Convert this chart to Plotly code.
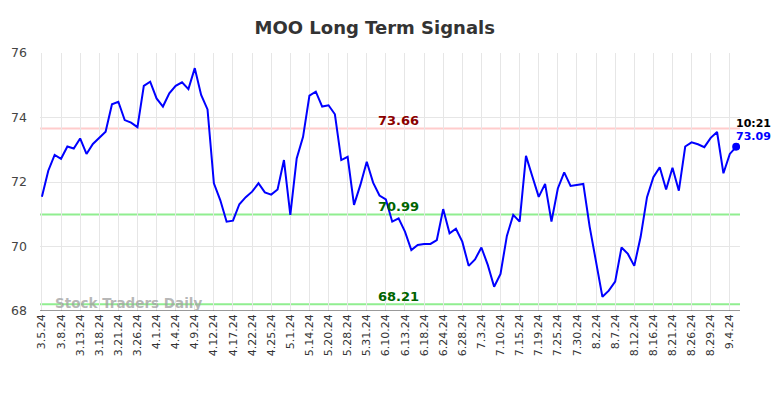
import plotly.graph_objects as go

dates = ["3.5.24","3.6.24","3.7.24","3.8.24","3.11.24","3.12.24","3.13.24","3.14.24","3.15.24","3.18.24",
         "3.19.24","3.20.24","3.21.24","3.22.24","3.25.24","3.26.24","3.27.24","3.28.24","4.1.24","4.2.24",
         "4.3.24","4.4.24","4.5.24","4.8.24","4.9.24","4.10.24","4.11.24","4.12.24","4.15.24","4.16.24",
         "4.17.24","4.18.24","4.19.24","4.22.24","4.23.24","4.24.24","4.25.24","4.26.24","4.29.24","5.1.24",
         "5.3.24","5.10.24","5.14.24","5.15.24","5.16.24","5.20.24","5.22.24","5.23.24","5.28.24","5.29.24",
         "5.30.24","5.31.24","6.4.24","6.6.24","6.10.24","6.11.24","6.12.24","6.13.24","6.14.24","6.17.24",
         "6.18.24","6.20.24","6.21.24","6.24.24","6.25.24","6.26.24","6.28.24","7.1.24","7.2.24","7.3.24",
         "7.5.24","7.9.24","7.10.24","7.11.24","7.12.24","7.15.24","7.16.24","7.17.24","7.19.24","7.22.24",
         "7.23.24","7.25.24","7.26.24","7.29.24","7.30.24","7.31.24","8.1.24","8.2.24","8.5.24","8.6.24",
         "8.7.24","8.8.24","8.9.24","8.12.24","8.13.24","8.14.24","8.16.24","8.19.24","8.20.24","8.21.24",
         "8.22.24","8.23.24","8.26.24","8.27.24","8.28.24","8.29.24","8.30.24","9.3.24","9.4.24","9.5.24"]

prices = [71.54,72.35,72.84,72.72,73.10,73.04,73.35,72.87,73.18,73.38,
          73.56,74.41,74.49,73.92,73.84,73.70,74.98,75.11,74.59,74.34,
          74.75,74.98,75.09,74.88,75.53,74.70,74.25,71.96,71.44,70.77,
          70.80,71.31,71.53,71.70,71.96,71.68,71.61,71.77,72.68,70.98,
          72.73,73.40,74.68,74.80,74.34,74.38,74.10,72.68,72.78,71.29,
          71.91,72.63,71.98,71.58,71.46,70.77,70.87,70.46,69.89,70.05,
          70.08,70.08,70.20,71.16,70.41,70.55,70.15,69.40,69.60,69.97,
          69.43,68.75,69.15,70.33,70.98,70.77,72.81,72.17,71.54,71.94,
          70.77,71.80,72.30,71.88,71.91,71.94,70.61,69.53,68.44,68.63,
          68.91,69.97,69.77,69.40,70.30,71.53,72.15,72.46,71.77,72.44,
          71.73,73.10,73.23,73.17,73.08,73.37,73.55,72.27,72.87,73.09]

resistance = 73.66
support_hi = 70.99
support_lo = 68.21
last_time = "10:21"
y_ticks = [68, 70, 72, 74, 76]

x = list(range(len(dates)))
tick_idx = list(range(0, len(dates), 3))

fig = go.Figure()
for lvl, col in [(resistance, "#ffcccc"), (support_hi, "#90ee90"), (support_lo, "#90ee90")]:
    fig.add_shape(type="line", xref="paper", x0=0, x1=1, yref="y", y0=lvl, y1=lvl,
                  line=dict(color=col, width=2), layer="below")

fig.add_trace(go.Scatter(x=x, y=prices, mode="lines", line=dict(color="#0000ff", width=2),
                         hoverinfo="skip", showlegend=False))
fig.add_trace(go.Scatter(x=[x[-1]], y=[prices[-1]], mode="markers",
                         marker=dict(color="#0000ff", size=8), showlegend=False))

mid = 56
for lvl, col in [(resistance, "#8b0000"), (support_hi, "#006400"), (support_lo, "#006400")]:
    fig.add_annotation(x=mid, y=lvl, text=f"{lvl:.2f}", showarrow=False, yshift=8,
                       font=dict(color=col, size=13, family="DejaVu Sans", weight="bold"))

fig.add_annotation(x=x[-1], y=prices[-1], text=last_time, showarrow=False, xanchor="left",
                   xshift=-2, yshift=23, font=dict(color="black", size=11, family="DejaVu Sans", weight="bold"))
fig.add_annotation(x=x[-1], y=prices[-1], text=f"{prices[-1]:.2f}", showarrow=False, xanchor="left",
                   xshift=-2, yshift=10, font=dict(color="#0000ff", size=11, family="DejaVu Sans", weight="bold"))

fig.add_annotation(xref="paper", yref="y", x=0.019, y=68.21, text="Stock Traders Daily", showarrow=False,
                   xanchor="left", yshift=1,
                   font=dict(color="rgba(160,160,160,0.75)", size=13.5, family="DejaVu Sans", weight="bold"))

fig.update_layout(
    width=784, height=398,
    margin=dict(l=40, r=44, t=53, b=87),
    paper_bgcolor="white", plot_bgcolor="white",
    title=dict(text="MOO Long Term Signals", x=0.478, xanchor="center", y=0.93, yanchor="middle",
               font=dict(size=18, family="DejaVu Sans", color="#333333", weight="bold")),
    font=dict(family="DejaVu Sans", size=11, color="#333333"),
)
fig.update_xaxes(range=[-0.3, 109.6], tickmode="array", tickvals=tick_idx,
                 ticktext=[dates[i] for i in tick_idx], tickangle=-90,
                 showgrid=True, gridcolor="#e6e6e6", gridwidth=1, zeroline=False,
                 showline=False, ticks="", tickfont=dict(size=11))
fig.update_yaxes(range=[68, 76], tickvals=y_ticks, showgrid=True, gridcolor="#e6e6e6",
                 zeroline=False, ticks="", ticklabelstandoff=12,
                 tickfont=dict(size=12.5, color="#444444"))
fig.add_shape(type="line", xref="paper", x0=0, x1=1, yref="y", y0=68, y1=68,
              line=dict(color="#333333", width=1))

fig.write_html("out.html", config={"displayModeBar": False},
               post_script="document.body.style.margin='0';document.body.style.overflow='hidden';")
